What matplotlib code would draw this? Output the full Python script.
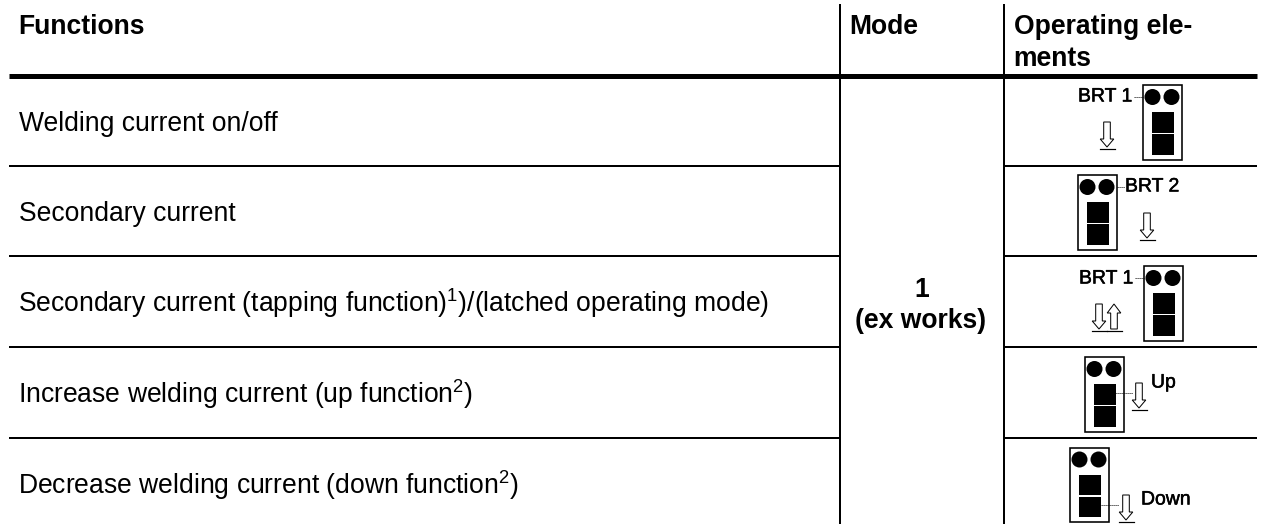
import matplotlib
matplotlib.use('Agg')
import matplotlib.pyplot as plt
import matplotlib.patheffects as pe
from matplotlib.patches import Rectangle, Circle, Polygon

plt.rcParams['font.family'] = ['Liberation Sans', 'DejaVu Sans']
plt.rcParams['mathtext.fontset'] = 'custom'
plt.rcParams['mathtext.rm'] = 'Liberation Sans'
plt.rcParams['mathtext.default'] = 'regular'

# ---- Table contents ----
headers = ['Functions', 'Mode', 'Operating ele-\nments']
functions = [
    'Welding current on/off',
    'Secondary current',
    'Secondary current (tapping function)$^{1}$)/(latched operating mode)',
    'Increase welding current (up function$^{2}$)',
    'Decrease welding current (down function$^{2}$)',
]
mode_text = '1\n(ex works)'
jumper_labels = ['BRT 1', 'BRT 2', 'BRT 1', 'Up', 'Down']

# ---- Layout in pixels ----
row_lines = [166, 256, 347, 438]
text_rows = [131, 221, 312.5, 403, 494]
text_x = [19, 19, 18.5, 18.5, 18.5]
box_pos = [(1143, 85), (1078, 175), (1144, 266), (1085, 357), (1070, 447.5)]
label_pos = [(1078, 97), (1125, 187), (1079, 279), (1151, 383), (1141, 500)]
arrow_pos = [(1107, 122), (1147, 213), (1099, 304), (1139, 383), (1126, 495)]
leader_pos = [(1134, 1143, 97), (1117, 1125, 187), (1135, 1144, 278), (1115, 1133, 393), (1101, 1119, 505)]

PX = 72 / 100  # 1 px expressed in pt at dpi=100

fig = plt.figure(figsize=(12.62, 5.24), dpi=100)
ax = fig.add_axes([0, 0, 1, 1])
ax.set_xlim(0, 1262)
ax.set_ylim(524, 0)
ax.axis('off')


def down_arrow(cx, top, up=False):
    # hollow arrow with a bar underneath, 27 px tall
    s, h = 3.3, 6.8
    if up:
        pts = [(cx - s, top + 25), (cx - s, top + 9), (cx - h, top + 9), (cx, top),
               (cx + h, top + 9), (cx + s, top + 9), (cx + s, top + 25)]
    else:
        pts = [(cx - s, top), (cx + s, top), (cx + s, top + 17), (cx + h, top + 17),
               (cx, top + 25), (cx - h, top + 17), (cx - s, top + 17)]
    ax.add_patch(Polygon(pts, closed=True, fc='white', ec='black', lw=1 * PX))
    ax.plot([cx - 7.5, cx + 7.5], [top + 27, top + 27], color='black', lw=1.2 * PX)


def jumper(x, y):
    ax.add_patch(Rectangle((x, y), 39, 74.5, fc='white', ec='black', lw=1.6 * PX))
    for dx in (9.5, 28.5):
        ax.add_patch(Circle((x + dx, y + 12), 8, fc='black', ec='none'))
    ax.add_patch(Rectangle((x + 8.5, y + 27), 22, 20.5, fc='black', ec='none'))
    ax.add_patch(Rectangle((x + 8.5, y + 49), 22, 20.5, fc='black', ec='none'))


# ---- Grid lines ----
ax.plot([9, 1257], [76, 76], color='black', lw=5 * PX, solid_capstyle='butt')
for y in row_lines:
    ax.plot([9, 840], [y, y], color='black', lw=2 * PX, solid_capstyle='butt')
    ax.plot([1004, 1257], [y, y], color='black', lw=2 * PX, solid_capstyle='butt')
for x in (840, 1004):
    ax.plot([x, x], [4, 524], color='black', lw=2 * PX, solid_capstyle='butt')

# ---- Text ----
FS = 26.5 * PX
ax.text(18.5, 34, headers[0], fontsize=FS, fontweight='bold', va='baseline')
ax.text(849.5, 34, headers[1], fontsize=FS, fontweight='bold', va='baseline')
ax.text(1013.5, 34, headers[2].split('\n')[0], fontsize=FS, fontweight='bold', va='baseline')
ax.text(1013.5, 66, headers[2].split('\n')[1], fontsize=FS, fontweight='bold', va='baseline')
for x, y, label in zip(text_x, text_rows, functions):
    ax.text(x, y, label, fontsize=FS, va='baseline')
lines = mode_text.split('\n')
ax.text(922, 297, lines[0], fontsize=FS, fontweight='bold', ha='center', va='baseline')
ax.text(921, 328, lines[1], fontsize=FS, fontweight='bold', ha='center', va='baseline')

# ---- Jumper sketches ----
for (bx, by), (lx, ly), (ax_x, ax_y), (l0, l1, ldy), lab in zip(box_pos, label_pos, arrow_pos, leader_pos, jumper_labels):
    jumper(bx, by)
    ax.text(lx, ly, lab, fontsize=19.4 * PX, va='center',
            path_effects=[pe.withStroke(linewidth=0.5 * PX, foreground='black')])
    down_arrow(ax_x, ax_y)
    ax.plot([l0, l1], [ldy, ldy], color='black', lw=0.8 * PX, ls=(0, (1.5, 1)))
down_arrow(1114, 304, up=True)

fig.savefig('out.png', dpi=100)
